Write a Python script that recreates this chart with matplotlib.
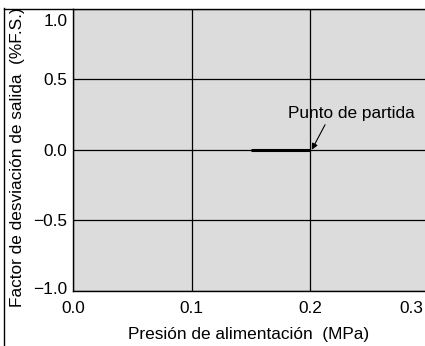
import matplotlib
matplotlib.use("Agg")
import matplotlib.pyplot as plt
from matplotlib.lines import Line2D
from matplotlib.transforms import ScaledTranslation, offset_copy

plt.rcParams['font.family'] = ['Liberation Sans', 'DejaVu Sans']

# Data
line_x = [0.15, 0.2]
line_y = [0.0, 0.0]
x_ticks = [0.0, 0.1, 0.2]
x_tick_labels = ["0.0", "0.1", "0.2"]
extra_x_label = "0.3"
y_ticks = [-1.0, -0.5, 0.0, 0.5, 1.0]
y_tick_labels = ["\u22121.0", "\u22120.5", "0.0", "0.5", "1.0"]
annot_text = "Punto de partida"
annot_xy = (0.2015, 0.0)
annot_text_xy = (0.2346, 0.255)
arrow_tail = (0.2127, 0.177)

FS = 12.4
W, H = 425, 346
fig = plt.figure(figsize=(W / 100, H / 100), dpi=100)
left = 73 / W
bottom = (H - 291) / H
top = (H - 8.5) / H
ax = fig.add_axes([left, bottom, 1.0 - left, top - bottom])
ax.set_facecolor('#dcdcdc')

ax.plot(line_x, line_y, color='black', lw=2.2, solid_capstyle='butt', zorder=3)

ax.set_xlim(0, (W - 73) / 1185)
ax.set_ylim(-1.0, 1.0)
ax.set_xticks(x_ticks)
ax.set_xticklabels(x_tick_labels, fontsize=FS)
ax.set_yticks(y_ticks)
ax.set_yticklabels(y_tick_labels, fontsize=FS)
XPAD = 7.5
ax.tick_params(length=0, pad=4)
ax.tick_params(axis='x', pad=XPAD)
ylabs = ax.get_yticklabels()
ylabs[0].set_transform(ylabs[0].get_transform() + ScaledTranslation(0, 3 / 100, fig.dpi_scale_trans))
ylabs[-1].set_transform(ylabs[-1].get_transform() + ScaledTranslation(0, -11.5 / 100, fig.dpi_scale_trans))

ax.grid(True, color='black', lw=0.9)
ax.set_axisbelow(True)
for s in ax.spines.values():
    s.set_color('black')
    s.set_linewidth(1.0)
ax.spines['right'].set_visible(False)

# extra tick label at the clipped right edge
ax.text(1.0, 0.0, extra_x_label, transform=offset_copy(ax.transAxes, fig, x=-1, y=-XPAD, units='points'),
        ha='right', va='top', fontsize=FS)

ax.text(annot_text_xy[0], annot_text_xy[1], annot_text, ha='center', va='center', fontsize=FS)
ax.annotate('', xy=annot_xy, xytext=arrow_tail,
            arrowprops=dict(arrowstyle='-|>', color='black', lw=0.8, mutation_scale=9,
                            shrinkA=0, shrinkB=0))

ax.set_xlabel("Presión de alimentación  (MPa)", fontsize=FS, labelpad=7.5)
fig.text(18 / W, 1 - 157 / H, "Factor de desviación de salida  (%F.S.)", rotation=90,
         ha='center', va='center', fontsize=FS)

# outer frame lines
fig.add_artist(Line2D([4 / W, 4 / W], [0, 1 - 8 / H], color='black', lw=1.0, transform=fig.transFigure))
fig.add_artist(Line2D([3.5 / W, left], [1 - 8.5 / H, 1 - 8.5 / H], color='black', lw=1.0, transform=fig.transFigure))

fig.savefig("out.png", dpi=100)
